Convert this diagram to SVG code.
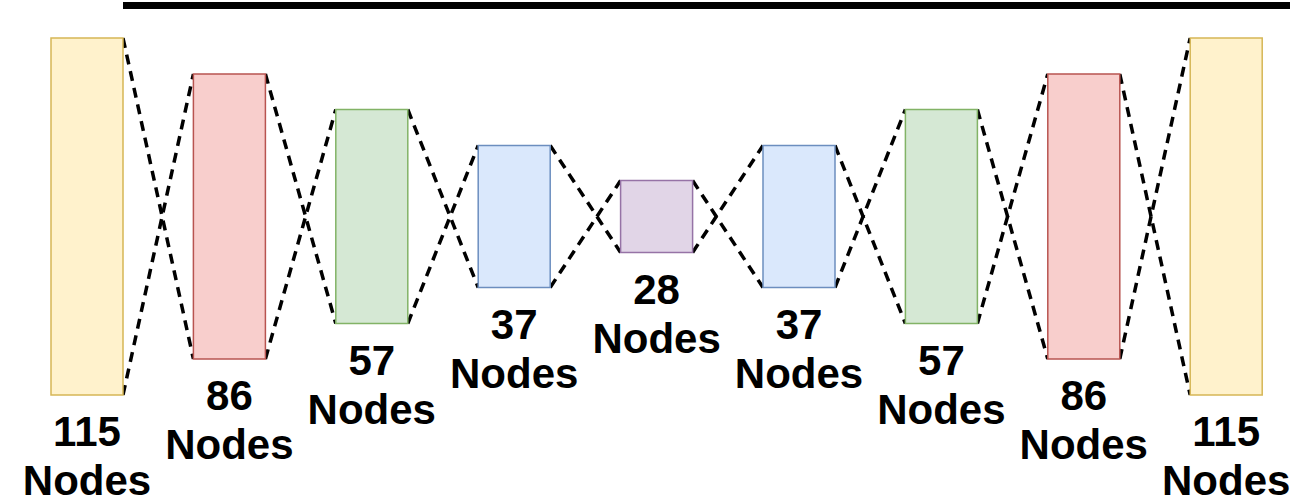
<svg xmlns="http://www.w3.org/2000/svg" width="1290" height="498" viewBox="0 0 1290 498">
<style>
.lbl{font-family:"Liberation Sans",Arial,sans-serif;font-weight:bold;font-size:42px;fill:#000;text-anchor:middle}
.dash{stroke:#000;stroke-width:3.5;stroke-dasharray:10 7;fill:none}
.y{fill:#fff2cc;stroke:#d6b656;stroke-width:1.5}
.r{fill:#f8cecc;stroke:#b85450;stroke-width:1.5}
.g{fill:#d5e8d4;stroke:#82b366;stroke-width:1.5}
.b{fill:#dae8fc;stroke:#6c8ebf;stroke-width:1.5}
.p{fill:#e1d5e7;stroke:#9673a6;stroke-width:1.5}
</style>
<rect width="1290" height="498" fill="#fff"/>
<line x1="123" y1="5.5" x2="1290" y2="5.5" stroke="#000" stroke-width="7"/>
<g id="connectors">
<line class="dash" x1="123" y1="38" x2="193.4" y2="359"/>
<line class="dash" x1="123" y1="395" x2="193.4" y2="74"/>
<line class="dash" x1="265.4" y1="74" x2="335.8" y2="323.5"/>
<line class="dash" x1="265.4" y1="359" x2="335.8" y2="109.5"/>
<line class="dash" x1="407.8" y1="109.5" x2="478.2" y2="287.5"/>
<line class="dash" x1="407.8" y1="323.5" x2="478.2" y2="145.5"/>
<line class="dash" x1="550.2" y1="145.5" x2="620.6" y2="252.5"/>
<line class="dash" x1="550.2" y1="287.5" x2="620.6" y2="180.5"/>
<line class="dash" x1="692.6" y1="180.5" x2="763" y2="287.5"/>
<line class="dash" x1="692.6" y1="252.5" x2="763" y2="145.5"/>
<line class="dash" x1="835" y1="145.5" x2="905.4" y2="323.5"/>
<line class="dash" x1="835" y1="287.5" x2="905.4" y2="109.5"/>
<line class="dash" x1="977.4" y1="109.5" x2="1047.8" y2="359"/>
<line class="dash" x1="977.4" y1="323.5" x2="1047.8" y2="74"/>
<line class="dash" x1="1119.8" y1="74" x2="1190.2" y2="395"/>
<line class="dash" x1="1119.8" y1="359" x2="1190.2" y2="38"/>
</g>
<g id="n1"><rect class="y" x="51" y="38" width="72" height="357"/><text class="lbl" x="87" y="446">115</text><text class="lbl" x="87" y="495">Nodes</text></g>
<g id="n2"><rect class="r" x="193.4" y="74" width="72" height="285"/><text class="lbl" x="229.4" y="410">86</text><text class="lbl" x="229.4" y="459">Nodes</text></g>
<g id="n3"><rect class="g" x="335.8" y="109.5" width="72" height="214"/><text class="lbl" x="371.8" y="374.5">57</text><text class="lbl" x="371.8" y="423.5">Nodes</text></g>
<g id="n4"><rect class="b" x="478.2" y="145.5" width="72" height="142"/><text class="lbl" x="514.2" y="338.5">37</text><text class="lbl" x="514.2" y="387.5">Nodes</text></g>
<g id="n5"><rect class="p" x="620.6" y="180.5" width="72" height="72"/><text class="lbl" x="656.6" y="303.5">28</text><text class="lbl" x="656.6" y="352.5">Nodes</text></g>
<g id="n6"><rect class="b" x="763" y="145.5" width="72" height="142"/><text class="lbl" x="799" y="338.5">37</text><text class="lbl" x="799" y="387.5">Nodes</text></g>
<g id="n7"><rect class="g" x="905.4" y="109.5" width="72" height="214"/><text class="lbl" x="941.4" y="374.5">57</text><text class="lbl" x="941.4" y="423.5">Nodes</text></g>
<g id="n8"><rect class="r" x="1047.8" y="74" width="72" height="285"/><text class="lbl" x="1083.8" y="410">86</text><text class="lbl" x="1083.8" y="459">Nodes</text></g>
<g id="n9"><rect class="y" x="1190.2" y="38" width="72" height="357"/><text class="lbl" x="1226.2" y="446">115</text><text class="lbl" x="1226.2" y="495">Nodes</text></g>
</svg>
